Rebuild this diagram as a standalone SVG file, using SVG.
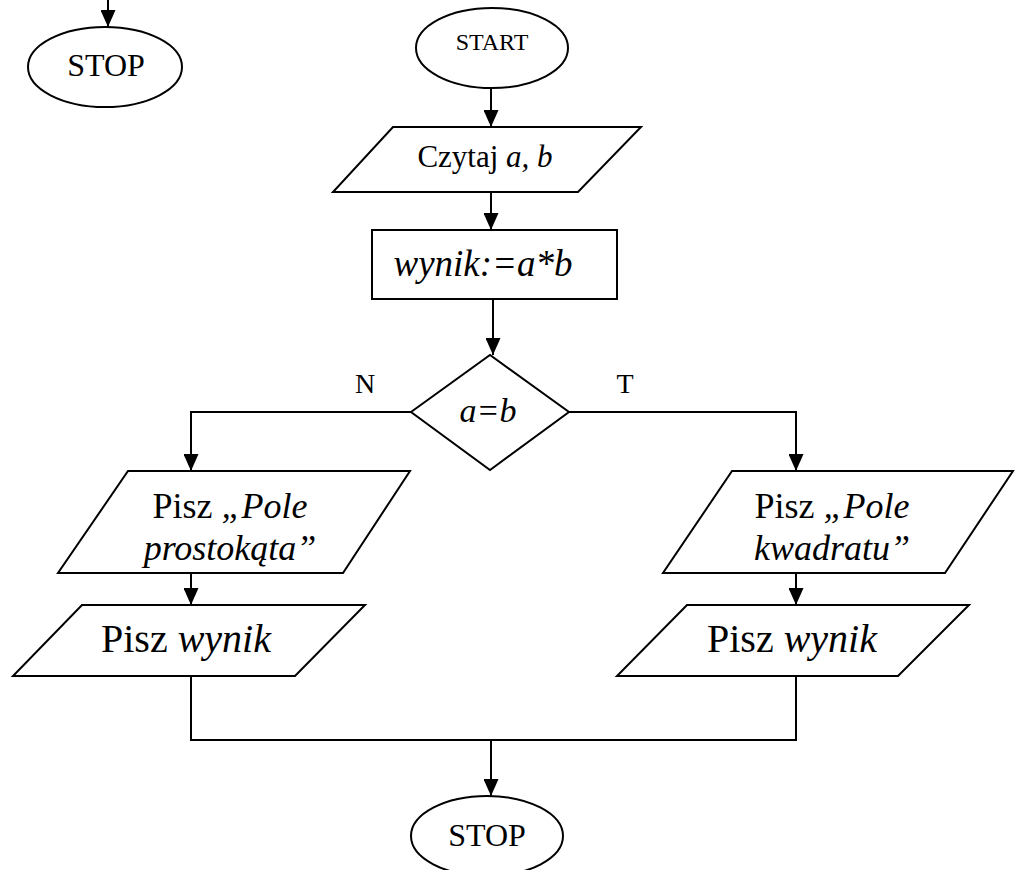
<svg xmlns="http://www.w3.org/2000/svg" width="1021" height="870" viewBox="0 0 1021 870">
  <style>
    .shape { fill: #ffffff; stroke: #000000; stroke-width: 2; }
    .edge { fill: none; stroke: #000000; stroke-width: 2; }
    text { font-family: "Liberation Serif", "Times New Roman", serif; fill: #000000; text-anchor: middle; }
    .it { font-style: italic; }
  </style>
  <defs>
    <marker id="arrow" markerUnits="userSpaceOnUse" markerWidth="17" markerHeight="15" refX="17" refY="7.5" orient="auto">
      <path d="M0,0 L17,7.5 L0,15 Z" fill="#000000"/>
    </marker>
  </defs>

  <!-- connectors -->
  <g id="connectors">
    <path class="edge" d="M108,0 V27" marker-end="url(#arrow)"/>
    <path class="edge" d="M491,88 V127" marker-end="url(#arrow)"/>
    <path class="edge" d="M491,192 V230" marker-end="url(#arrow)"/>
    <path class="edge" d="M493,299 V355" marker-end="url(#arrow)"/>
    <path class="edge" d="M411,412 H191 V471" marker-end="url(#arrow)"/>
    <path class="edge" d="M569,412 H796 V471" marker-end="url(#arrow)"/>
    <path class="edge" d="M191,573 V605" marker-end="url(#arrow)"/>
    <path class="edge" d="M796,573 V605" marker-end="url(#arrow)"/>
    <path class="edge" d="M191,676 V740 H796 V676"/>
    <path class="edge" d="M491,740 V796" marker-end="url(#arrow)"/>
  </g>

  <!-- terminator reached from above -->
  <g id="stop-top">
    <ellipse class="shape" cx="105" cy="67" rx="77" ry="40"/>
    <text x="106" y="76" font-size="32">STOP</text>
  </g>

  <g id="start">
    <ellipse class="shape" cx="492" cy="48" rx="76" ry="40"/>
    <text x="492" y="50" font-size="24">START</text>
  </g>

  <g id="read-ab">
    <polygon class="shape" points="393,127 641,127 578,192 333,192"/>
    <text x="485" y="167" font-size="31">Czytaj <tspan class="it">a, b</tspan></text>
  </g>

  <g id="assign">
    <rect class="shape" x="372" y="230" width="245" height="69"/>
    <text class="it" x="483" y="276" font-size="37">wynik:=a*b</text>
  </g>

  <g id="decision">
    <polygon class="shape" points="411,412 490,355 569,412 490,470"/>
    <text class="it" x="488" y="422" font-size="34">a=b</text>
  </g>

  <g id="label-n">
    <text x="365" y="393" font-size="28">N</text>
  </g>
  <g id="label-t">
    <text x="625" y="393" font-size="28">T</text>
  </g>

  <g id="print-rect-label">
    <polygon class="shape" points="128,471 410,471 343,573 58,573"/>
    <text x="230" y="518" font-size="36">Pisz <tspan class="it">„Pole</tspan></text>
    <text class="it" x="230" y="560" font-size="36">prostokąta”</text>
  </g>

  <g id="print-square-label">
    <polygon class="shape" points="732,471 1013,471 945,573 663,573"/>
    <text x="832" y="518" font-size="36">Pisz <tspan class="it">„Pole</tspan></text>
    <text class="it" x="832" y="560" font-size="36">kwadratu”</text>
  </g>

  <g id="print-result-left">
    <polygon class="shape" points="82,605 365,605 295,676 13,676"/>
    <text x="186" y="652" font-size="40">Pisz <tspan class="it">wynik</tspan></text>
  </g>

  <g id="print-result-right">
    <polygon class="shape" points="687,605 969,605 898,676 617,676"/>
    <text x="792" y="652" font-size="40">Pisz <tspan class="it">wynik</tspan></text>
  </g>

  <g id="stop">
    <ellipse class="shape" cx="487" cy="836" rx="76" ry="40"/>
    <text x="487" y="846" font-size="32">STOP</text>
  </g>
</svg>
